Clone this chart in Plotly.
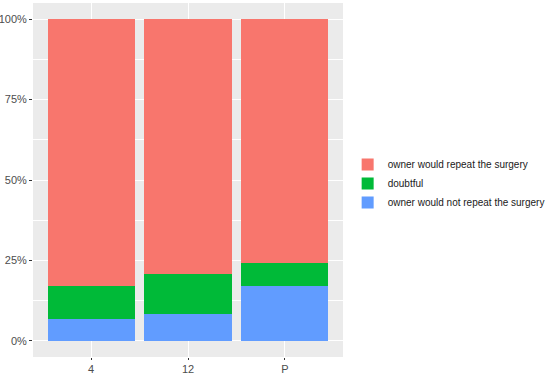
import plotly.graph_objects as go

categories = ["4", "12", "P"]
not_repeat = [6.9, 8.3, 17.2]
doubtful = [10.3, 12.5, 6.9]
repeat = [82.8, 79.2, 75.9]
series_names = ["owner would not repeat the surgery", "doubtful", "owner would repeat the surgery"]
series_colors = ["#619CFF", "#00BA38", "#F8766D"]
y_ticks = [0, 25, 50, 75, 100]
y_tick_labels = ["0%", "25%", "50%", "75%", "100%"]

fig = go.Figure()
for name, vals, col in zip(series_names, [not_repeat, doubtful, repeat], series_colors):
    fig.add_trace(go.Bar(x=categories, y=vals, name=name, marker=dict(color=col, line=dict(width=0)), width=0.9))

fig.update_layout(
    width=550, height=374,
    barmode="stack",
    paper_bgcolor="white",
    plot_bgcolor="#EBEBEB",
    margin=dict(l=33, r=207, t=3, b=17, autoexpand=False),
    font=dict(family="Liberation Sans, Arial, sans-serif", size=11, color="#4D4D4D"),
    legend=dict(
        x=1.015, y=0.585, xanchor="left", yanchor="top",
        traceorder="reversed",
        font=dict(size=10, color="#1A1A1A"),
        bgcolor="rgba(0,0,0,0)",
        tracegroupgap=0,
    ),
    showlegend=True,
)
fig.update_xaxes(
    type="category", range=[-0.6, 2.6], automargin=False,
    showgrid=True, gridcolor="white", gridwidth=1.1,
    ticks="outside", ticklen=2, tickcolor="#333333", tickwidth=1,
    tickfont=dict(size=11, color="#4D4D4D"),
    zeroline=False, showline=False,
)
fig.update_yaxes(
    range=[-5, 105], tickvals=y_ticks, ticktext=y_tick_labels, automargin=False,
    showgrid=True, gridcolor="white", gridwidth=1.1,
    minor=dict(dtick=12.5, tick0=0, showgrid=True, gridcolor="white", gridwidth=0.5, ticks=""),
    ticks="outside", ticklen=3, tickcolor="#333333", tickwidth=1,
    tickfont=dict(size=11, color="#4D4D4D"),
    zeroline=False, showline=False,
)
fig.write_html("out.html", config={"displayModeBar": False},
               post_script="document.body.style.margin='0';document.body.style.overflow='hidden';")
